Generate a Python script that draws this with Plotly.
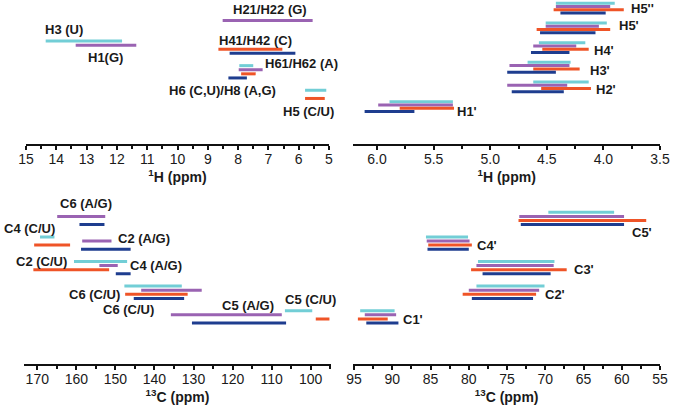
import plotly.graph_objects as go

# colour for each nucleotide series
colors = {"U": "#72CED6", "G": "#9A63B2", "C": "#EF5427", "A": "#1E3D8F"}

# --- panel A: 1H, 15-5 ppm (exchangeable / base protons) ---
hA_nuc = ["U", "G", "G", "C", "A", "U", "G", "C", "A", "U", "C"]
hA_from = [14.35, 13.36, 8.51, 8.65, 8.28, 7.96, 7.98, 7.90, 8.32, 5.79, 5.79]
hA_to = [11.83, 11.36, 5.54, 6.54, 6.11, 7.50, 7.19, 7.42, 7.71, 5.09, 5.14]
hA_lane = [10, 11, 5, 12, 13, 16, 17, 18, 19, 22, 24]
hA_text = ["H3 (U)", "H1(G)", "H21/H22 (G)", "H41/H42 (C)", "H61/H62 (A)",
           "H6 (C,U)/H8 (A,G)", "H5 (C/U)"]
hA_tx = [13.76, 12.38, 6.96, 7.42, 5.90, 8.53, 5.67]
hA_ty = [7.3, 13.9, 2.3, 9.9, 15.4, 21.95, 27.1]

# --- panel B: 1H, ribose protons ---
hB_nuc = ["U", "G", "C", "A"] * 6
hB_from = [4.42, 4.42, 4.44, 4.38,
           4.51, 4.51, 4.59, 4.56,
           4.57, 4.62, 4.54, 4.64,
           4.67, 4.83, 4.62, 4.85,
           4.62, 4.85, 4.55, 4.81,
           5.89, 5.99, 5.80, 6.11]
hB_to = [3.90, 3.94, 3.82, 3.98,
         3.97, 4.04, 3.94, 4.07,
         4.16, 4.24, 4.13, 4.30,
         4.29, 4.30, 4.21, 4.42,
         4.13, 4.32, 4.11, 4.35,
         5.33, 5.33, 5.32, 5.67]
hB_lane = [1, 2, 3, 4, 7, 8, 9, 10, 13, 14, 15, 16,
           19, 20, 21, 22, 25, 26, 27, 28, 31, 32, 33, 34]
hB_text = ["H5''", "H5'", "H4'", "H3'", "H2'", "H1'"]
hB_tx = [3.77, 3.88, 4.10, 4.14, 4.08, 5.31]
hB_ty = [2.45, 7.8, 15.5, 21.5, 27.2, 34.0]

# --- panel C: 13C, base carbons ---
cA_nuc = ["G", "A", "U", "C", "G", "A", "U", "G", "C", "A",
          "U", "G", "C", "A", "U", "G", "C", "A"]
cA_from = [164.9, 159.2, 169.3, 170.8, 158.5, 158.8, 160.6, 154.1, 171.0, 149.9,
           147.7, 143.4, 147.5, 145.3, 106.6, 135.8, 98.7, 130.4]
cA_to = [152.6, 152.8, 165.6, 161.6, 151.0, 146.1, 147.0, 149.4, 151.6, 146.1,
         133.0, 127.9, 131.5, 132.4, 99.6, 107.4, 95.2, 106.3]
cA_lane = [4, 6, 9, 11, 10, 12, 15, 16, 17, 18,
           21, 22, 23, 24, 27, 28, 29, 30]
cA_text = ["C6 (A/G)", "C4 (C/U)", "C2 (A/G)", "C2 (C/U)", "C4 (A/G)",
           "C6 (C/U)", "C6 (C/U)", "C5 (A/G)", "C5 (C/U)"]
cA_tx = [157.6, 172.0, 142.8, 169.0, 139.5, 155.4, 146.6, 116.0, 100.1]
cA_ty = [0.8, 6.9, 9.5, 15.05, 16.0, 23.0, 26.7, 25.85, 24.2]

# --- panel D: 13C, ribose carbons ---
cB_nuc = ["U", "G", "C", "A"] * 5
cB_from = [69.6, 73.4, 73.5, 73.2,
           85.6, 85.5, 85.3, 85.4,
           78.8, 79.0, 79.7, 78.2,
           79.0, 80.0, 80.8, 79.6,
           94.2, 93.6, 94.5, 93.4]
cB_to = [61.0, 59.7, 56.8, 59.7,
         80.1, 79.9, 79.6, 80.0,
         68.8, 68.9, 67.2, 69.3,
         70.1, 70.8, 71.2, 71.6,
         89.7, 89.5, 90.6, 89.2]
cB_lane = [3, 4, 5, 6, 9, 10, 11, 12, 15, 16, 17, 18,
           21, 22, 23, 24, 27, 28, 29, 30]
cB_text = ["C5'", "C4'", "C3'", "C2'", "C1'"]
cB_tx = [57.3, 79.24, 66.47, 70.26, 88.85]
cB_ty = [7.9, 11.05, 17.0, 23.0, 29.1]

FONT = "Arial, Liberation Sans, sans-serif"
W, H = 685, 407

panels = [
    dict(nuc=hA_nuc, x0=hA_from, x1=hA_to, lane=hA_lane,
         text=hA_text, tx=hA_tx, ty=hA_ty, anchor=["center"] * 7,
         xr=[15, 5], dtick=1, minor=0.5, yr=[35.1, 0],
         dom=[26 / W, 329 / W], ydom=[1 - 144 / H, 1.0],
         title="<sup>1</sup>H (ppm)", fmt=None),
    dict(nuc=hB_nuc, x0=hB_from, x1=hB_to, lane=hB_lane,
         text=hB_text, tx=hB_tx, ty=hB_ty, anchor=["left"] * 6,
         xr=[6.21, 3.5], dtick=0.5, minor=0.25, yr=[43.9, 0],
         dom=[353.3 / W, 660 / W], ydom=[1 - 144 / H, 1.0],
         title="<sup>1</sup>H (ppm)", fmt=".1f"),
    dict(nuc=cA_nuc, x0=cA_from, x1=cA_to, lane=cA_lane,
         text=cA_text, tx=cA_tx, ty=cA_ty, anchor=["center"] * 9,
         xr=[173.4, 94.8], dtick=10, minor=5, yr=[40.07, 0],
         dom=[24 / W, 331 / W], ydom=[1 - 364.3 / H, 1 - 200 / H],
         title="<sup>13</sup>C (ppm)", fmt=None),
    dict(nuc=cB_nuc, x0=cB_from, x1=cB_to, lane=cB_lane,
         text=cB_text, tx=cB_tx, ty=cB_ty, anchor=["center", "left", "left", "left", "left"],
         xr=[95.1, 55], dtick=5, minor=2.5, yr=[40.07, 0],
         dom=[353.3 / W, 660 / W], ydom=[1 - 364.3 / H, 1 - 200 / H],
         title="<sup>13</sup>C (ppm)", fmt=None),
]

fig = go.Figure()
annotations = []

for i, p in enumerate(panels, start=1):
    sfx = "" if i == 1 else str(i)
    for n in ["U", "G", "C", "A"]:
        xs, ys = [], []
        for nu, a, b, l in zip(p["nuc"], p["x0"], p["x1"], p["lane"]):
            if nu != n:
                continue
            xs += [a, b, None]
            ys += [l, l, None]
        if not xs:
            continue
        fig.add_trace(go.Scatter(
            x=xs, y=ys, mode="lines", xaxis="x" + sfx, yaxis="y" + sfx,
            line=dict(color=colors[n], width=3), showlegend=False,
            hoverinfo="skip"))
    for t, x, y, anc in zip(p["text"], p["tx"], p["ty"], p["anchor"]):
        annotations.append(dict(
            text=t, x=x, y=y, xref="x" + sfx, yref="y" + sfx,
            xanchor=anc, yanchor="middle", showarrow=False,
            font=dict(family=FONT, size=13, color="#1a1a1a", weight="bold")))

    fig.layout["xaxis" + sfx] = dict(
        domain=p["dom"], range=p["xr"], anchor="y" + sfx, automargin=False,
        showline=True, linecolor="#111", linewidth=2,
        ticks="outside", ticklen=4, tickwidth=1.5, tickcolor="#111",
        dtick=p["dtick"], tick0=0, tickformat=p["fmt"], ticklabelstandoff=-3,
        minor=dict(dtick=p["minor"], ticks="outside", ticklen=3,
                   tickwidth=1.5, tickcolor="#111"),
        showgrid=False, zeroline=False,
        tickfont=dict(family=FONT, size=14, color="#1a1a1a"),
        title=dict(text=p["title"], standoff=4,
                   font=dict(family=FONT, size=14, color="#1a1a1a", weight="bold")))
    fig.layout["yaxis" + sfx] = dict(
        domain=p["ydom"], range=p["yr"], anchor="x" + sfx, automargin=False,
        visible=False, showgrid=False, zeroline=False)

fig.update_layout(
    width=W, height=H,
    margin=dict(l=0, r=0, t=0, b=0),
    paper_bgcolor="white", plot_bgcolor="white",
    annotations=annotations,
)

# drop the browser's default page margin so the figure sits at the window corner
fig.write_html("out.html", config={"displayModeBar": False},
               post_script="document.body.style.margin='0';")
